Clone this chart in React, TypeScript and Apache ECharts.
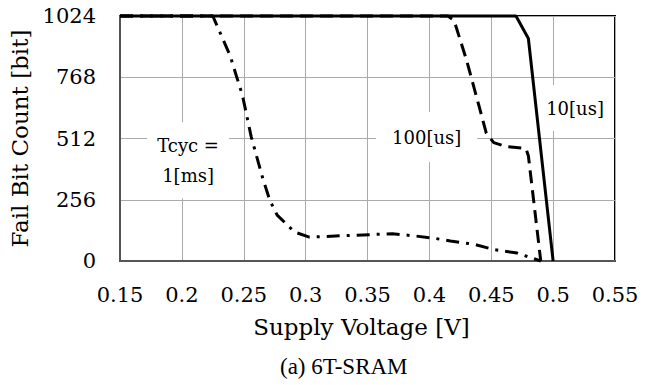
import React, { useEffect, useRef } from "react";
import * as echarts from "echarts";

const xTicks = [0.15, 0.2, 0.25, 0.3, 0.35, 0.4, 0.45, 0.5, 0.55];
const yTicks = [0, 256, 512, 768, 1024];

const tcyc10us: [number, number][] = [
  [0.15, 1024], [0.47, 1024], [0.48, 930], [0.5, 0],
];
const tcyc100us: [number, number][] = [
  [0.15, 1024], [0.415, 1024], [0.42, 1005], [0.43, 840], [0.44, 650], [0.446, 534],
  [0.452, 495], [0.462, 478], [0.478, 470], [0.48, 440], [0.49, 0],
];
const tcyc1ms: [number, number][] = [
  [0.15, 1024], [0.225, 1024], [0.239, 858], [0.249, 691], [0.256, 520], [0.265, 352],
  [0.271, 254], [0.277, 192], [0.291, 121], [0.303, 100], [0.337, 107], [0.37, 114],
  [0.388, 105], [0.405, 94], [0.417, 84], [0.437, 69], [0.452, 48], [0.471, 33], [0.49, 0],
];

const seriesNames = ["10[us]", "100[us]", "Tcyc =\n1[ms]"];
const labelCoords: [number, number][] = [[0.5177, 639], [0.3978, 518], [0.205, 421]];
const labelPads: [number, number][] = [[8, 8], [10, 16], [8, 10]];

const SERIF = "'DejaVu Serif', serif";

export default function App() {
  const ref = useRef<HTMLDivElement>(null);
  useEffect(() => {
    if (!ref.current) return;
    const chart = echarts.init(ref.current, undefined, { renderer: "svg" });
    const mkLabel = (i: number) => ({
      symbol: "rect",
      symbolSize: 0,
      silent: true,
      data: [{ coord: labelCoords[i], value: seriesNames[i] }],
      label: {
        show: true,
        position: "inside",
        formatter: seriesNames[i],
        color: "#000",
        fontFamily: SERIF,
        fontSize: 18,
        lineHeight: 30,
        backgroundColor: "#fff",
        padding: labelPads[i],
        align: "center",
        verticalAlign: "middle",
      },
    });
    chart.setOption({
      animation: false,
      backgroundColor: "#fff",
      title: {
        text: "(a) 6T-SRAM",
        left: 275,
        top: 350,
        textStyle: { fontFamily: "'Liberation Serif', serif", fontSize: 23, fontWeight: "normal", color: "#000" },
      },
      grid: {
        left: 120, right: 41, top: 16, bottom: 124,
        show: true, borderColor: "#000", borderWidth: 2, backgroundColor: "transparent",
      },
      xAxis: {
        type: "value",
        min: 0.15, max: 0.55, interval: 0.05,
        name: "Supply Voltage [V]",
        nameLocation: "middle",
        nameGap: 54,
        nameTextStyle: { fontFamily: SERIF, fontSize: 23, color: "#000", padding: [0, 12, 0, 0] },
        axisLine: { show: true, lineStyle: { color: "#555", width: 2 } },
        axisTick: { show: false },
        axisLabel: {
          margin: 23, fontFamily: SERIF, fontSize: 21, color: "#000",
          formatter: (v: number) => {
            const m = xTicks.find((t) => Math.abs(t - v) < 1e-6);
            return m !== undefined ? String(m) : "";
          },
        },
        splitLine: { show: true, lineStyle: { color: "#aaa", width: 1 } },
      },
      yAxis: {
        type: "value",
        min: 0, max: 1024, interval: 256,
        name: "Fail Bit Count [bit]",
        nameLocation: "middle",
        nameGap: 86,
        nameTextStyle: { fontFamily: SERIF, fontSize: 23, color: "#000" },
        axisLine: { show: true, lineStyle: { color: "#555", width: 2 } },
        axisTick: { show: false },
        axisLabel: {
          margin: 24, fontFamily: SERIF, fontSize: 21, color: "#000",
          formatter: (v: number) => (yTicks.includes(v) ? String(v) : ""),
        },
        splitLine: { show: true, lineStyle: { color: "#aaa", width: 1 } },
      },
      series: [
        {
          name: "1ms", type: "line", data: tcyc1ms, showSymbol: false, clip: false,
          lineStyle: { color: "#000", width: 3, type: [13, 7, 3, 7] },
          markPoint: mkLabel(2),
          z: 3,
        },
        {
          name: "100us", type: "line", data: tcyc100us, showSymbol: false, clip: false,
          lineStyle: { color: "#000", width: 3, type: [13, 7] },
          markPoint: mkLabel(1),
          z: 4,
        },
        {
          name: "10us", type: "line", data: tcyc10us, showSymbol: false, clip: false,
          lineStyle: { color: "#000", width: 3, type: "solid" },
          markPoint: mkLabel(0),
          z: 5,
        },
      ],
    });
    return () => chart.dispose();
  }, []);
  return <div ref={ref} style={{ width: 656, height: 385, position: "absolute", left: 0, top: 0 }} />;
}
